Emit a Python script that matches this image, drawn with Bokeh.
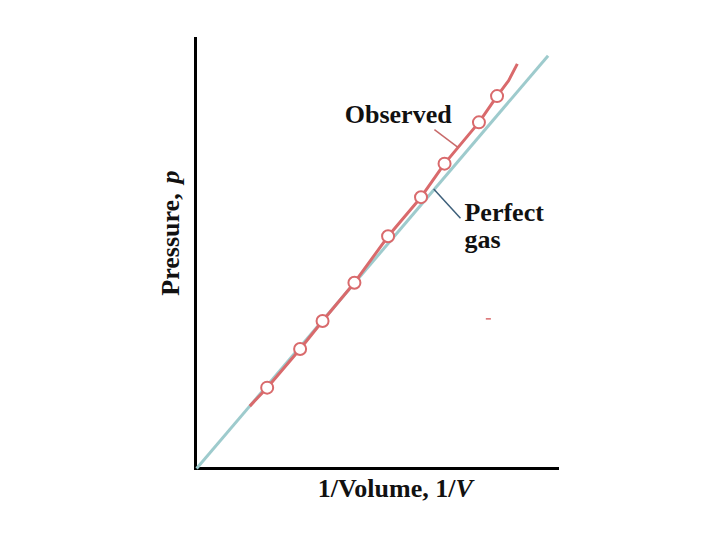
import numpy as np
from bokeh.plotting import figure
from bokeh.models import Label, Range1d
from bokeh.embed import file_html
from bokeh.resources import INLINE

# Observed data points (1/V, p) in arbitrary units
obs_x = [1.98, 2.89, 3.51, 4.39, 5.32, 6.23, 6.88, 7.83, 8.33]
obs_y = [1.88, 2.78, 3.43, 4.32, 5.40, 6.31, 7.09, 8.05, 8.66]
# Observed curve (smooth line through the points)
obs_curve_x = [1.50, 1.98, 2.89, 3.51, 4.39, 5.32, 6.23, 6.88, 7.83, 8.33, 8.65, 8.89]
obs_curve_y = [1.45, 1.88, 2.78, 3.43, 4.32, 5.40, 6.31, 7.09, 8.05, 8.66, 9.02, 9.41]
# Perfect gas line
perfect_x = [0.03, 9.74]
perfect_y = [0.0, 9.60]
# axis extents
x_axis_max = 10.0
y_axis_max = 10.0

FONT = "Liberation Serif"
W, H = 712, 532
SX, SY = 36.2, 43.0
X0 = -195 / SX
Y1 = 468 / SY

p = figure(width=W, height=H, output_backend="svg", toolbar_location=None,
           x_range=Range1d(X0, X0 + W / SX), y_range=Range1d(Y1 - H / SY, Y1),
           min_border=0)
p.background_fill_color = "white"
p.border_fill_color = "white"
p.outline_line_color = None
p.grid.visible = False
p.axis.visible = False

# axes drawn as lines
p.line([0, 0], [0, y_axis_max], line_color="black", line_width=3, line_cap="square")
p.line([0, x_axis_max], [0, 0], line_color="black", line_width=3, line_cap="square")

p.line(perfect_x, perfect_y, line_color="#9ecbcd", line_width=3)
p.line(obs_curve_x, obs_curve_y, line_color="#d96a6c", line_width=3)
p.scatter(obs_x, obs_y, size=12, fill_color="white", line_color="#d96a6c", line_width=2)

# leader lines
p.line([6.60, 7.25], [7.88, 7.47], line_color="#c86a6a", line_width=1.5)
p.line([6.58, 7.32], [6.50, 5.82], line_color="#3d5f7a", line_width=1.5)
p.line([8.02, 8.16], [3.48, 3.48], line_color="#d96a6c", line_width=1.5)

def lab(x, y, text, align="left", style="bold", angle=0.0):
    p.add_layout(Label(x=x, y=y, text=text, text_font=FONT, text_font_size="26px",
                       text_font_style=style, text_align=align,
                       text_baseline="alphabetic", angle=angle, text_color="#111111"))

lab(5.60, 8.24, "Observed", align="center")
lab(7.43, 5.95, "Perfect")
lab(7.43, 5.33, "gas")
lab(7.18, -0.46, "1/Volume, 1/", align="right")
lab(7.18, -0.46, "V", style="bold italic")
lab(-0.70, 4.02, "Pressure, ", align="left", angle=np.pi / 2)
lab(-0.70, 6.63, "p", align="left", style="bold italic", angle=np.pi / 2)

open("out.html", "w").write(file_html(p, INLINE))
